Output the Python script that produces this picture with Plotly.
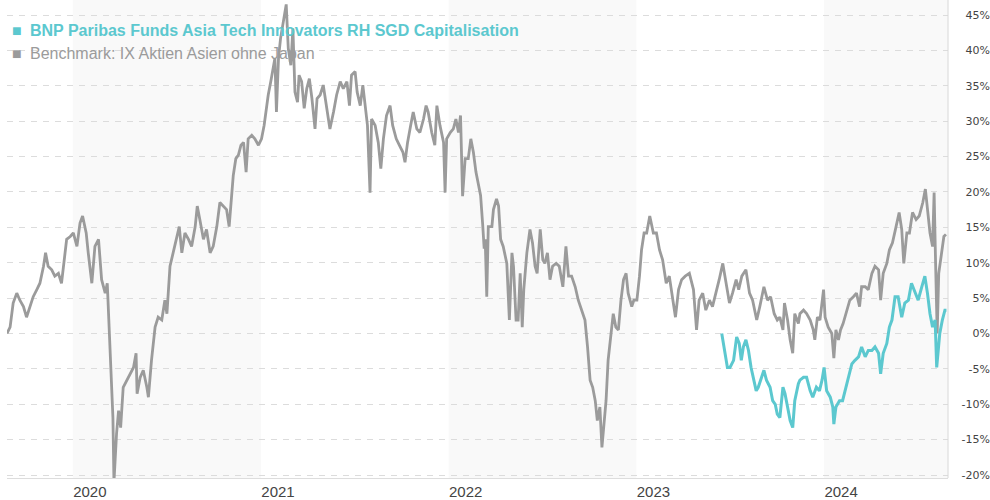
import pandas as pd
import plotly.graph_objects as go

# ---------------- data ----------------
start_date = "2019-08-26"

bench_day = [
    0, 6, 12, 19, 25, 32, 38, 45, 51, 58, 64, 71, 75, 80, 87, 93, 100, 106, 110, 116,
    123, 129, 136, 142, 147, 154, 158, 165, 171, 178, 184, 191, 195, 199, 202, 206, 208, 213, 217, 221,
    226, 233, 239, 246, 251, 253, 259, 265, 272, 275, 281, 288, 294, 301, 307,
    311, 317, 323, 330, 335, 340, 346, 353, 359, 366, 370, 375, 382, 388, 395, 401, 408, 414, 421, 427,
    432, 436, 440, 445, 450, 455, 460, 465, 469, 476, 482, 489, 495, 500, 504, 508, 513, 518, 521, 524,
    528, 532, 536, 539, 543, 547, 552, 556, 560, 565, 568, 573, 578, 583, 588, 593, 599, 603, 609, 615,
    622, 628, 635, 641, 648, 654, 661, 666, 670, 677, 681, 687, 692, 696, 701, 706, 709, 716, 722, 727,
    732, 738, 745, 750, 757, 763, 770, 774, 779, 785, 790, 797, 803, 810, 815, 819, 826, 832, 836, 842,
    849, 852, 855, 862, 868, 873, 878, 882, 886, 891, 897, 902, 907, 912, 917, 921, 925,
    928, 930, 933, 936, 943, 946, 952, 956, 960, 965, 972, 977, 982, 985, 990, 994, 998, 1002, 1005, 1011,
    1017, 1022, 1027, 1031, 1037, 1042, 1046, 1051, 1056, 1061, 1068, 1074, 1081, 1087, 1092, 1098, 1105, 1111, 1118, 1124,
    1129, 1134, 1139, 1144, 1148, 1153, 1157, 1161, 1165, 1169, 1174, 1179, 1184, 1189, 1194, 1199, 1204, 1208, 1215, 1219,
    1225, 1230, 1234, 1239,
    1244, 1250, 1257, 1263, 1269, 1275, 1282, 1288, 1295, 1300, 1306, 1312, 1319, 1327, 1335, 1341, 1346, 1353, 1359, 1366,
    1372, 1379, 1385, 1392, 1398, 1405, 1411, 1418, 1423, 1429, 1437, 1444, 1450, 1458, 1464, 1472, 1479, 1485, 1492, 1498,
    1503, 1509, 1512, 1518, 1523, 1528, 1532, 1539,
    1542, 1549, 1555, 1562, 1568, 1571, 1576, 1581, 1588, 1591, 1597, 1604, 1608, 1612, 1617, 1621, 1626, 1633, 1639, 1646,
    1652, 1658, 1662, 1669, 1675, 1682, 1688, 1695, 1699, 1704, 1711, 1716, 1722, 1729, 1735, 1740, 1744, 1750, 1755, 1761,
    1768, 1774, 1781, 1786, 1790, 1795, 1800, 1803, 1806, 1809, 1812, 1818, 1822, 1826,
]
bench_pct = [
    0.0, 0.9, 4.3, 5.7, 4.7, 3.8, 2.3, 3.8, 5.2, 6.2, 7.1, 9.5, 11.4, 9.5, 9.0, 8.1, 8.5, 7.1, 9.9, 13.3,
    13.7, 14.2, 12.3, 15.6, 16.6, 14.2, 11.4, 7.1, 12.3, 13.3, 7.6, 5.7, 7.1, 0.9, -4.8, -11.9, -21.0, -14.2, -10.9, -13.3,
    -7.6, -6.6, -5.7, -4.8, -2.8, -8.5, -6.2, -5.2, -7.6, -9.0, -3.8, 0.9, 2.3, 1.9, 4.7,
    2.8, 9.5, 11.4, 13.3, 15.1, 11.4, 14.2, 13.3, 12.3, 15.1, 18.0, 16.1, 13.3, 14.7, 11.4, 12.3, 15.1, 18.5, 18.0, 17.5,
    15.1, 18.5, 22.3, 24.7, 25.2, 26.6, 27.0, 22.8, 27.5, 28.0, 27.5, 26.6, 27.5, 29.4, 31.8, 33.7, 35.6, 37.5, 38.9, 31.3,
    38.9, 41.7, 43.6, 44.6, 46.5, 40.3, 37.9, 43.1, 34.1, 32.7, 36.5, 35.6, 31.8, 34.6, 36.0, 33.2, 28.9, 33.2, 33.7, 35.1,
    31.8, 28.9, 31.3, 33.7, 35.6, 34.6, 35.6, 32.2, 36.5, 37.0, 34.1, 32.2, 35.1, 32.7, 29.4, 19.9, 30.3, 29.4, 27.0, 23.3,
    27.5, 30.8, 32.2, 29.4, 27.5, 26.6, 25.6, 24.2, 27.0, 29.4, 31.3, 28.9, 28.4, 30.3, 32.2, 31.3, 28.4, 26.6, 32.2, 29.4,
    27.0, 19.9, 27.5, 28.4, 28.9, 30.3, 28.4, 30.8, 19.4, 24.7, 24.7, 27.5, 25.6, 22.8, 20.8, 19.5, 15.5,
    12.0, 13.3, 5.2, 15.1, 15.1, 17.5, 19.0, 18.0, 13.3, 12.3, 9.9, 1.9, 11.4, 9.5, 1.9, 1.9, 8.5, 0.9, 6.2, 11.4,
    14.7, 12.8, 9.5, 8.5, 14.7, 10.4, 9.9, 11.4, 7.6, 9.5, 9.9, 9.5, 6.6, 12.3, 8.1, 8.1, 6.6, 4.7, 3.3, 1.9,
    -1.9, -6.6, -7.6, -9.5, -12.3, -10.4, -16.1, -12.3, -9.5, -3.8, 0.0, 2.8, 0.9, 0.5, 4.7, 7.6, 8.5, 5.7, 3.8, 4.7,
    4.7, 8.1, 11.8, 14.2,
    14.2, 16.6, 14.2, 14.2, 11.8, 10.4, 7.1, 8.1, 4.7, 2.3, 6.2, 7.6, 8.1, 8.5, 6.2, 0.5, 4.7, 5.7, 3.3, 4.7,
    3.8, 5.7, 7.6, 9.9, 7.1, 4.3, 5.7, 7.6, 6.2, 8.1, 9.0, 5.7, 4.7, 1.9, 3.8, 6.6, 4.7, 5.2, 2.8, 1.9,
    2.3, 0.5, 4.3, 1.9, -0.9, -2.8, 2.8, 1.4,
    2.8, 3.3, 2.8, 1.9, 0.5, -0.9, 2.3, 1.9, 6.2, 2.3, 0.9, 0.0, -3.5, 0.5, -0.9, 0.5, 1.4, 3.3, 4.7, 5.2,
    5.7, 3.8, 6.6, 6.6, 6.2, 8.5, 9.5, 9.0, 4.7, 8.5, 9.9, 11.8, 12.8, 15.1, 17.1, 14.7, 9.9, 14.2, 14.2, 17.1,
    16.1, 16.6, 18.5, 20.4, 18.0, 14.2, 12.3, 19.9, 9.5, 0.0, 8.5, 11.4, 13.7, 14.0,
]

fund_day = [
    1390, 1396, 1401, 1406, 1413, 1419, 1424, 1428, 1432, 1437, 1442, 1447, 1451, 1457, 1461, 1466, 1472, 1477, 1484, 1489,
    1494, 1498, 1503, 1509, 1513, 1518, 1523, 1528, 1532, 1539, 1542, 1549, 1555, 1562, 1567, 1574, 1580, 1585, 1589, 1594,
    1601, 1606, 1608, 1612, 1619, 1625, 1630, 1636, 1643, 1649, 1656, 1662, 1669, 1675, 1682, 1688, 1695, 1699, 1704, 1711,
    1716, 1721, 1727, 1733, 1740, 1746, 1753, 1759, 1766, 1772, 1779, 1785, 1790, 1795, 1800, 1805, 1808, 1811, 1814, 1819,
    1824, 1827,
]
fund_pct = [
    0.0, -2.4, -4.8, -4.8, -3.8, -0.5, -1.4, -3.8, -1.9, -0.9, -2.4, -4.8, -6.2, -8.1, -7.6, -6.6, -5.2, -6.6, -7.6, -9.5,
    -10.0, -11.4, -11.9, -7.6, -8.5, -10.4, -12.3, -13.3, -9.5, -7.1, -6.6, -6.2, -6.2, -8.1, -9.0, -7.6, -8.1, -6.6, -4.8, -8.1,
    -9.0, -10.4, -12.8, -10.4, -9.5, -9.5, -8.1, -6.2, -4.3, -3.8, -3.3, -1.9, -3.3, -2.4, -2.4, -1.9, -2.8, -5.7, -2.8, -1.4,
    0.9, 1.9, 5.2, 5.2, 2.3, 4.3, 4.7, 7.1, 5.7, 4.7, 6.6, 8.1, 5.7, 2.8, 0.9, 1.9, -4.8, -2.8, 0.0, 1.9,
    3.3, 3.3,
]

fund_name = "BNP Paribas Funds Asia Tech Innovators RH SGD Capitalisation"
bench_name = "Benchmark: IX Aktien Asien ohne Japan"

y_tick_vals = [45, 40, 35, 30, 25, 20, 15, 10, 5, 0, -5, -10, -15, -20]
y_tick_text = ["45%", "40%", "35%", "30%", "25%", "20%", "15%", "10%", "5%", "0%",
               "-5%", "-10%", "-15%", "-20%"]
x_tick_vals = ["2020-01-01", "2021-01-01", "2022-01-01", "2023-01-01", "2024-01-01"]
x_tick_text = ["2020", "2021", "2022", "2023", "2024"]
shaded_years = [("2020-01-01", "2021-01-01"), ("2022-01-01", "2023-01-01"), ("2024-01-01", "2025-01-01")]

# ---------------- figure ----------------
t0 = pd.Timestamp(start_date)
bench_x = [t0 + pd.Timedelta(days=d) for d in bench_day]
fund_x = [t0 + pd.Timedelta(days=d) for d in fund_day]

TEAL = "#5cc8cf"
GRAY = "#9b9b9b"

fig = go.Figure()
fig.add_trace(go.Scatter(x=bench_x, y=bench_pct, mode="lines", name=bench_name,
                         line=dict(color=GRAY, width=2.8), hoverinfo="skip"))
fig.add_trace(go.Scatter(x=fund_x, y=fund_pct, mode="lines", name=fund_name,
                         line=dict(color=TEAL, width=3), hoverinfo="skip"))

shapes = []
for a, b in shaded_years:
    shapes.append(dict(type="rect", xref="x", yref="paper", x0=a, x1=b, y0=0, y1=1,
                       fillcolor="#f9f9f9", line=dict(width=0), layer="below"))
shapes.append(dict(type="line", xref="x domain", yref="paper", x0=1, x1=1, y0=0, y1=1,
                   line=dict(color="#d8d8d8", width=1)))

PLOT_W = 990 - 7 - 0
annotations = [
    dict(xref="paper", yref="paper", x=3 / PLOT_W, y=1 - 30 / 478, xanchor="left", yanchor="middle",
         text="■", showarrow=False, font=dict(family="Liberation Sans, Arial", size=16, color=TEAL)),
    dict(xref="paper", yref="paper", x=21 / PLOT_W, y=1 - 30 / 478, xanchor="left", yanchor="middle",
         text="<b>" + fund_name + "</b>", showarrow=False,
         font=dict(family="Liberation Sans, Arial", size=16, color=TEAL)),
    dict(xref="paper", yref="paper", x=3 / PLOT_W, y=1 - 53 / 478, xanchor="left", yanchor="middle",
         text="■", showarrow=False, font=dict(family="Liberation Sans, Arial", size=16, color=GRAY)),
    dict(xref="paper", yref="paper", x=21 / PLOT_W, y=1 - 53 / 478, xanchor="left", yanchor="middle",
         text=bench_name, showarrow=False,
         font=dict(family="Liberation Sans, Arial", size=16, color=GRAY)),
]

fig.update_layout(
    width=990, height=500,
    margin=dict(l=7, r=0, t=0, b=22, pad=0),
    paper_bgcolor="white", plot_bgcolor="white",
    showlegend=False,
    shapes=shapes,
    annotations=annotations,
    xaxis=dict(
        type="date", domain=[0, 941 / PLOT_W],
        range=["2019-08-26", "2024-08-29"],
        tickvals=x_tick_vals, ticktext=x_tick_text,
        ticklabelshift=17,
        showgrid=False, zeroline=False,
        showline=True, linecolor="#dddddd", linewidth=1,
        ticks="", tickfont=dict(family="Liberation Sans, Arial", size=15, color="#444444"),
        automargin=False,
    ),
    yaxis=dict(
        anchor="free", position=1.0, side="left",
        range=[-20.42, 47.12],
        tickvals=y_tick_vals, ticktext=y_tick_text,
        showgrid=True, gridcolor="#dcdcdc", gridwidth=1, griddash="6px,6px",
        zeroline=False, showline=False, ticks="",
        tickfont=dict(family="DejaVu Sans, Verdana", size=11, color="#444444"),
        automargin=False,
    ),
)

fig.write_html("out.html",
               config={"displayModeBar": False},
               post_script="document.body.style.margin='0';document.body.style.padding='0';")
